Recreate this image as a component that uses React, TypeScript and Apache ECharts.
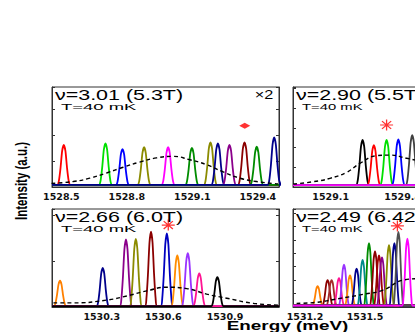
import React, { useEffect, useRef } from "react";
import * as echarts from "echarts";

// ---------- data ----------
// Panel 1 : nu = 3.01 (5.3 T)
const P1_TITLE = "ν=3.01 (5.3T)";
const P1_TICKS = [1528.5, 1528.8, 1529.1, 1529.4];
const P1_CENTERS = [1528.511, 1528.702, 1528.78, 1528.879, 1528.989, 1529.098, 1529.183, 1529.217, 1529.27, 1529.339, 1529.395, 1529.475];
const P1_HEIGHTS = [1.62, 1.68, 1.46, 1.53, 1.53, 1.51, 1.72, 1.68, 1.62, 1.72, 1.55, 1.91];
const P1_COLORS = ["#ff0000", "#00e000", "#0000ff", "#8b8b00", "#ff00ff", "#008c00", "#8b8b00", "#00008b", "#8b008b", "#8b0000", "#008c00", "#00008b"];
const P1_DASHED: [number, number][] = [
  [1528.455, 0.14], [1528.554, 0.21], [1528.63, 0.34], [1528.707, 0.54], [1528.783, 0.76], [1528.859, 0.96],
  [1528.936, 1.12], [1529.012, 1.18], [1529.088, 1.05], [1529.165, 0.86], [1529.241, 0.58], [1529.318, 0.34],
  [1529.394, 0.21], [1529.493, 0.12],
];
const P1_MARK: [number, number] = [1529.34, 2.36];

// Panel 2 : nu = 2.90 (5.5 T)
const P2_TITLE = "ν=2.90 (5.5T)";
const P2_TICKS = [1529.1, 1529.4];
const P2_CENTERS = [1529.233, 1529.28, 1529.333, 1529.382, 1529.44, 1529.48];
const P2_HEIGHTS = [2.39, 2.13, 2.39, 2.42, 2.64, 2.5];
const P2_COLORS = ["#000000", "#ff0000", "#00e000", "#0000ff", "#404040", "#ff00ff"];
const P2_DASHED: [number, number][] = [
  [1528.944, 0.15], [1529.028, 0.27], [1529.097, 0.44], [1529.167, 0.75], [1529.222, 1.2], [1529.292, 1.59],
  [1529.347, 1.62], [1529.417, 1.46], [1529.451, 1.37],
];
const P2_MARK: [number, number] = [1529.333, 3.15];

// Panel 3 : nu = 2.66 (6.0 T)
const P3_TITLE = "ν=2.66 (6.0T)";
const P3_TICKS = [1530.3, 1530.6, 1530.9];
const P3_CENTERS = [1530.097, 1530.305, 1530.418, 1530.466, 1530.54, 1530.617, 1530.668, 1530.719, 1530.775, 1530.863];
const P3_HEIGHTS = [0.57, 0.85, 1.47, 1.48, 1.64, 1.6, 1.12, 1.17, 0.73, 0.65];
const P3_COLORS = ["#ff8000", "#00008b", "#8b008b", "#8b8b00", "#8b0000", "#0000c0", "#ff8c00", "#9933ff", "#ff1493", "#000000"];
const P3_DASHED: [number, number][] = [
  [1530.065, 0.09], [1530.162, 0.09], [1530.325, 0.15], [1530.422, 0.24], [1530.519, 0.35], [1530.617, 0.43],
  [1530.714, 0.4], [1530.811, 0.28], [1530.909, 0.19], [1531.038, 0.08], [1531.16, 0.04],
];
const P3_MARK: [number, number] = [1530.624, 1.78];

// Panel 4 : nu = 2.49 (6.42 T)
const P4_TITLE = "ν=2.49 (6.42T)";
const P4_TICKS = [1531.2, 1531.5];
const P4_CENTERS = [1531.263, 1531.313, 1531.333, 1531.37, 1531.395, 1531.425, 1531.458, 1531.488, 1531.52, 1531.55, 1531.57, 1531.585, 1531.62, 1531.647, 1531.667, 1531.712];
const P4_HEIGHTS = [1.55, 2.0, 2.0, 2.15, 3.15, 2.35, 2.85, 3.5, 4.75, 4.15, 3.85, 3.7, 4.6, 4.75, 5.6, 5.1];
const P4_COLORS = ["#ff8000", "#8b0000", "#a52a2a", "#ff1493", "#9933ff", "#ff8c00", "#00008b", "#008b8b", "#008c00", "#8b0000", "#a00000", "#8b008b", "#8b8b00", "#00008b", "#505050", "#ff00ff"];
const P4_DASHED: [number, number][] = [
  [1531.158, 0.27], [1531.258, 0.35], [1531.375, 0.64], [1531.49, 0.94], [1531.59, 1.26], [1531.69, 2.0], [1531.75, 2.1],
];
const P4_MARK: [number, number] = [1531.662, 6.04];

// shape of one emission line (fraction of the peak height at offsets in half-widths)
const PEAK_OFFSETS = [-1, -0.75, -0.5, -0.25, 0, 0.25, 0.5, 0.75, 1];
const PEAK_PROFILE = [0, 0.1, 0.42, 0.85, 1, 0.85, 0.42, 0.1, 0];

// ---------- layout ----------
const PANELS = [
  { title: P1_TITLE, ticks: P1_TICKS, centers: P1_CENTERS, heights: P1_HEIGHTS, colors: P1_COLORS, dashed: P1_DASHED, mark: P1_MARK, markKind: "diamond",
    grid: { left: 52, top: 87, width: 227, height: 100 }, xmin: 1528.457, xmax: 1529.497, ymax: 3.85, hw: 0.03, base: 0.08 },
  { title: P2_TITLE, ticks: P2_TICKS, centers: P2_CENTERS, heights: P2_HEIGHTS, colors: P2_COLORS, dashed: P2_DASHED, mark: P2_MARK, markKind: "star",
    grid: { left: 293, top: 87, width: 227, height: 100 }, xmin: 1528.943, xmax: 1529.889, ymax: 5.08, hw: 0.027, base: 0.1 },
  { title: P3_TITLE, ticks: P3_TICKS, centers: P3_CENTERS, heights: P3_HEIGHTS, colors: P3_COLORS, dashed: P3_DASHED, mark: P3_MARK, markKind: "star",
    grid: { left: 52, top: 209, width: 227, height: 98 }, xmin: 1530.058, xmax: 1531.163, ymax: 2.13, hw: 0.03, base: 0.02 },
  { title: P4_TITLE, ticks: P4_TICKS, centers: P4_CENTERS, heights: P4_HEIGHTS, colors: P4_COLORS, dashed: P4_DASHED, mark: P4_MARK, markKind: "star",
    grid: { left: 293, top: 209, width: 227, height: 98 }, xmin: 1531.14, xmax: 1532.275, ymax: 7.3, hw: 0.027, base: 0.1 },
];

const STAR_PATH =
  "path://M-10,-1L10,-1L10,1L-10,1Z M-1,-10L1,-10L1,10L-1,10Z M7.78,6.36L6.36,7.78L-7.78,-6.36L-6.36,-7.78Z M6.36,-7.78L7.78,-6.36L-6.36,7.78L-7.78,6.36Z";

const SANS = "Liberation Sans, Arial, sans-serif";
const TICK_FONT = "DejaVu Sans, sans-serif";

function buildOption() {
  const grid: any[] = [];
  const xAxis: any[] = [];
  const yAxis: any[] = [];
  const series: any[] = [];
  const graphic: any[] = [];

  PANELS.forEach((p, i) => {
    grid.push({ ...p.grid, show: true, borderColor: "#333", borderWidth: 1, backgroundColor: "transparent" });
    xAxis.push({
      gridIndex: i, type: "value", min: p.xmin, max: p.xmax,
      axisLine: { show: true, onZero: false, lineStyle: { color: "#333", width: 1 } },
      axisTick: { show: false },
      splitLine: { show: false },
      axisLabel: {
        customValues: p.ticks, hideOverlap: false,
        formatter: (v: number) => v.toFixed(1),
        fontFamily: TICK_FONT, fontWeight: "bold", fontSize: 9.5, color: "#111", margin: 4,
      },
    });
    const yBase = {
      gridIndex: i, type: "value", min: 0, max: p.ymax, interval: 1,
      axisLine: { show: true, lineStyle: { color: "#333", width: 1 } },
      axisTick: { show: true, inside: true, length: 3, lineStyle: { color: "#333" } },
      axisLabel: { show: false },
      splitLine: { show: false },
    };
    yAxis.push({ ...yBase, position: "left" });
    yAxis.push({ ...yBase, position: "right" });

    p.centers.forEach((c, k) => {
      const pts: [number, number][] = [[p.xmin, p.base]];
      PEAK_OFFSETS.forEach((o, j) => {
        pts.push([c + o * p.hw, p.base + PEAK_PROFILE[j] * (p.heights[k] - p.base)]);
      });
      pts.push([p.xmax, p.base]);
      series.push({
        type: "line", xAxisIndex: i, yAxisIndex: i * 2, data: pts, symbol: "none", smooth: 0.2,
        lineStyle: { color: p.colors[k], width: 1.8 }, itemStyle: { color: p.colors[k] }, silent: true, z: 2,
      });
    });

    series.push({
      type: "line", xAxisIndex: i, yAxisIndex: i * 2, data: p.dashed, symbol: "none", smooth: true,
      lineStyle: { color: "#000", width: 1.4, type: [4, 3] }, silent: true, z: 3,
    });

    series.push({
      type: "scatter", xAxisIndex: i, yAxisIndex: i * 2, data: [p.mark],
      symbol: p.markKind === "diamond" ? "diamond" : STAR_PATH,
      symbolSize: p.markKind === "diamond" ? [11, 6] : [13, 11],
      itemStyle: { color: "#ff0000" }, silent: true, z: 4,
    });

    const g = p.grid;
    graphic.push({
      type: "text", x: g.left + 3, y: g.top + 8, scaleX: 1.48, z: 10,
      style: { text: p.title, fontSize: 14.5, fontFamily: SANS, fill: "#000", textAlign: "left", textVerticalAlign: "middle", align: "left", verticalAlign: "middle" },
    });
    graphic.push({
      type: "text", x: g.left + 9, y: g.top + 20, scaleX: i % 2 === 0 ? 2.05 : 1.65, z: 10,
      style: { text: "T=40 mK", fontSize: 9, fontFamily: SANS, fill: "#000", textAlign: "left", textVerticalAlign: "middle", align: "left", verticalAlign: "middle" },
    });
  });

  graphic.push({
    type: "text", x: 264, y: 95, scaleX: 1.25, z: 10,
    style: { text: "×2", fontSize: 13, fontFamily: SANS, fill: "#000", textAlign: "center", textVerticalAlign: "middle", align: "center", verticalAlign: "middle" },
  });
  graphic.push({
    type: "text", x: 287.5, y: 325, scaleX: 1.45, z: 10,
    style: { text: "Energy (meV)", fontSize: 13, fontWeight: "bold", fontFamily: SANS, fill: "#000", textAlign: "center", textVerticalAlign: "middle", align: "center", verticalAlign: "middle" },
  });
  graphic.push({
    type: "text", x: 21, y: 181, rotation: Math.PI / 2, scaleY: 1.4, z: 10,
    style: { text: "Intensity (a.u.)", fontSize: 11.5, fontWeight: "bold", fontFamily: SANS, fill: "#000", textAlign: "center", textVerticalAlign: "middle", align: "center", verticalAlign: "middle" },
  });

  return { animation: false, backgroundColor: "#fff", grid, xAxis, yAxis, series, graphic };
}

export default function App() {
  const ref = useRef<HTMLDivElement>(null);
  useEffect(() => {
    if (!ref.current) return;
    const chart = echarts.init(ref.current, undefined, { renderer: "svg" });
    chart.setOption(buildOption() as any);
    return () => chart.dispose();
  }, []);
  return <div ref={ref} style={{ position: "fixed", left: 0, top: 0, width: 530, height: 332 }} />;
}
